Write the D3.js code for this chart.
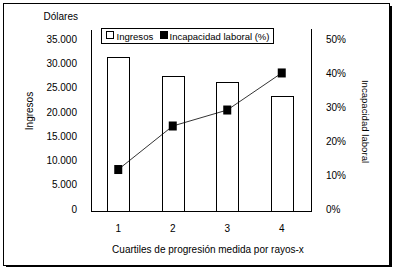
<!DOCTYPE html>
<html>
<head>
<meta charset="utf-8">
<script src="https://cdn.jsdelivr.net/npm/d3@7"></script>
<style>
  html, body { margin: 0; padding: 0; background: #fff; }
  svg { display: block; }
  text { font-family: "Liberation Sans", Arial, sans-serif; font-size: 10px; fill: #000; }
</style>
</head>
<body>
<svg id="chart" width="396" height="269"></svg>
<script>
const categories = ["1", "2", "3", "4"];
const ingresos = [31800, 27700, 26500, 23600];
const incapacidad = [12.2, 25.0, 29.7, 40.6];
const leftTicks = [0, 5000, 10000, 15000, 20000, 25000, 30000, 35000];
const rightTicks = [0, 10, 20, 30, 40, 50];

const svg = d3.select("#chart");

// frame with shadow
svg.append("rect").attr("x", 3.5).attr("y", 3.5).attr("width", 386).attr("height", 262)
  .attr("fill", "#fff").attr("stroke", "#000").attr("stroke-width", 1);
svg.append("rect").attr("x", 390).attr("y", 6).attr("width", 2).attr("height", 261).attr("fill", "#000");
svg.append("rect").attr("x", 6).attr("y", 266).attr("width", 386).attr("height", 1).attr("fill", "#000");

const plotL = 91, plotR = 311, plotT = 30, plotB = 211;

const x = d3.scaleBand().domain(categories).range([plotL, 309]).padding(0);
const yL = d3.scaleLinear().domain([0, 35000]).range([plotB, 41]);
const yR = d3.scaleLinear().domain([0, 50]).range([plotB, 41]);

const fmtL = d => d3.format(",")(d).replace(/,/g, ".");
const fmtR = d => d + "%";

// bars
const bw = x.bandwidth() * 0.4;
svg.append("g").selectAll("rect").data(ingresos).join("rect")
  .attr("x", (d, i) => Math.round(x(categories[i]) + x.bandwidth() / 2 - bw / 2) + 0.5)
  .attr("y", d => Math.round(yL(d)) + 0.5)
  .attr("width", Math.round(bw))
  .attr("height", d => plotB - Math.round(yL(d)))
  .attr("fill", "#fff").attr("stroke", "#000").attr("stroke-width", 1);

// axis lines
svg.append("line").attr("x1", plotL + 0.5).attr("x2", plotL + 0.5).attr("y1", plotT).attr("y2", plotB + 0.5)
  .attr("stroke", "#000");
svg.append("line").attr("x1", plotR + 0.5).attr("x2", plotR + 0.5).attr("y1", plotT - 1).attr("y2", plotB + 0.5)
  .attr("stroke", "#000");
svg.append("line").attr("x1", plotL).attr("x2", plotR + 1).attr("y1", plotB + 0.5).attr("y2", plotB + 0.5)
  .attr("stroke", "#000");

// left axis
const gL = svg.append("g").attr("transform", `translate(${plotL},-2)`)
  .call(d3.axisLeft(yL).tickValues(leftTicks).tickFormat(fmtL).tickSize(0).tickPadding(14));
gL.select(".domain").remove();
gL.selectAll("text").style("font-family", "'Liberation Sans', Arial, sans-serif").style("font-size", "10px");

// right axis
const gR = svg.append("g").attr("transform", `translate(${plotR},-2)`)
  .call(d3.axisRight(yR).tickValues(rightTicks).tickFormat(fmtR).tickSize(0).tickPadding(15));
gR.select(".domain").remove();
gR.selectAll("text").style("font-family", "'Liberation Sans', Arial, sans-serif").style("font-size", "10px");

// bottom axis
const gB = svg.append("g").attr("transform", `translate(0,${plotB})`)
  .call(d3.axisBottom(x).tickSize(0).tickPadding(14));
gB.select(".domain").remove();
gB.selectAll("text").style("font-family", "'Liberation Sans', Arial, sans-serif").style("font-size", "10px");

// line
const line = d3.line()
  .x((d, i) => x(categories[i]) + x.bandwidth() / 2)
  .y(d => yR(d));
svg.append("path").datum(incapacidad).attr("d", line)
  .attr("fill", "none").attr("stroke", "#000").attr("stroke-width", 0.8);
svg.append("g").selectAll("rect").data(incapacidad).join("rect")
  .attr("x", (d, i) => x(categories[i]) + x.bandwidth() / 2 - 4)
  .attr("y", d => yR(d) - 4.5)
  .attr("width", 8).attr("height", 9).attr("fill", "#000");

// titles
svg.append("text").attr("x", 78).attr("y", 19.5).attr("text-anchor", "end").text("Dólares");
svg.append("text").attr("transform", "translate(33,111) rotate(-90)").attr("text-anchor", "middle").text("Ingresos");
svg.append("text").attr("transform", "translate(362,121.5) rotate(90)").attr("text-anchor", "middle")
  .style("font-size", "9.6px").text("Incapacidad laboral");
svg.append("text").attr("x", 208).attr("y", 253).attr("text-anchor", "middle").text("Cuartiles de progresión medida por rayos-x");

// legend
const lg = svg.append("g");
lg.append("rect").attr("x", 101.5).attr("y", 28.5).attr("width", 172).attr("height", 15)
  .attr("fill", "#fff").attr("stroke", "#000");
lg.append("rect").attr("x", 106.5).attr("y", 31.5).attr("width", 7).attr("height", 7)
  .attr("fill", "#fff").attr("stroke", "#000");
lg.append("text").attr("x", 116.5).attr("y", 39.5).style("font-size", "9.6px").text("Ingresos");
lg.append("rect").attr("x", 160).attr("y", 31).attr("width", 8).attr("height", 8).attr("fill", "#000");
lg.append("text").attr("x", 169.5).attr("y", 39.5).style("font-size", "9.6px")
  .attr("textLength", 100).attr("lengthAdjust", "spacingAndGlyphs").text("Incapacidad laboral (%)");
</script>
</body>
</html>
